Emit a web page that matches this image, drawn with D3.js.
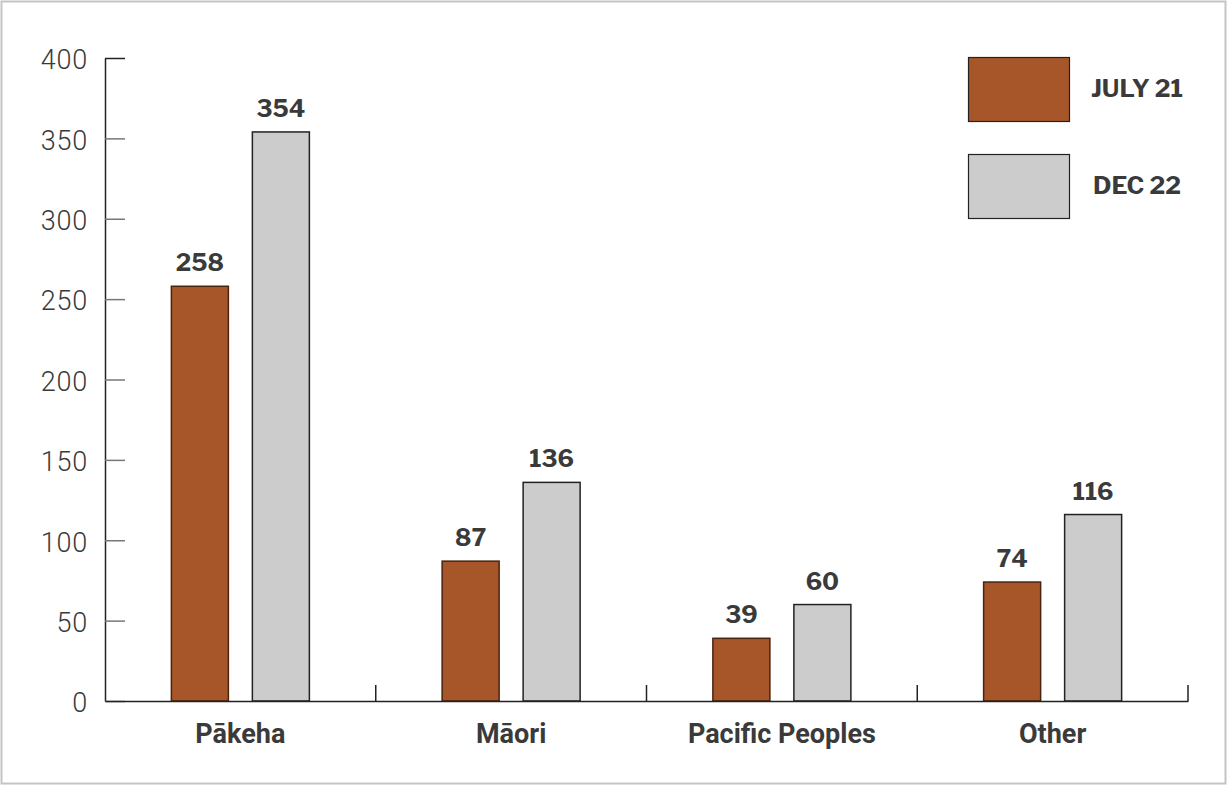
<!DOCTYPE html>
<html>
<head>
<meta charset="utf-8">
<script src="https://cdn.jsdelivr.net/npm/d3@7"></script>
<style>
  body { margin: 0; background: #fff; }
  svg { display: block; font-family: "Libre Franklin", "Roboto", "Liberation Sans", sans-serif; }
</style>
</head>
<body>
<div id="container"></div>
<script>
const categories = ["Pākeha", "Māori", "Pacific Peoples", "Other"];
const seriesNames = ["JULY 21", "DEC 22"];
const july21 = [258, 87, 39, 74];
const dec22 = [354, 136, 60, 116];
const yTicks = [0, 50, 100, 150, 200, 250, 300, 350, 400];

const width = 1227;
const height = 785;
const padding = { top: 58, bot: 84, left: 105, right: 39 };
const colors = ["#a65628", "#cccccc"];

const svg = d3.select("#container")
              .append("svg")
              .attr("width", width)
              .attr("height", height);

// outer frame
svg.append("rect")
   .attr("x", 1.5).attr("y", 1.5)
   .attr("width", width - 3).attr("height", height - 3)
   .attr("fill", "none")
   .attr("stroke", "#c4c4c4")
   .attr("stroke-width", 2);

const xScale = d3.scaleBand()
                 .domain(categories)
                 .range([padding.left, width - padding.right]);

const yScale = d3.scaleLinear()
                 .domain([0, 400])
                 .range([height - padding.bot, padding.top]);

const series = [july21, dec22];
const barW = 57;
const offsets = [-40.5, 40.5];

// y axis
const yAxis = d3.axisLeft(yScale)
                .tickValues(yTicks)
                .tickSize(0)
                .tickPadding(17);
const gy = svg.append("g")
   .attr("transform", "translate(" + padding.left + ",0)")
   .call(yAxis);
gy.select(".domain").attr("stroke", "#222").attr("stroke-width", 1.5);
gy.selectAll("text")
  .attr("font-size", 27)
  .attr("fill", "#3a3a3a")
  .attr("font-family", "Roboto, sans-serif")
  .attr("font-weight", 300)
  .attr("letter-spacing", 0.8)
  .attr("dy", "0.4em");
// inner ticks
gy.selectAll(".tick")
  .append("line")
  .attr("x1", 0).attr("x2", 20)
  .attr("stroke", (d) => d === 400 ? "#222" : "#777")
  .attr("stroke-width", 1.5);

// bars
series.forEach((vals, s) => {
  svg.selectAll(".bar" + s)
     .data(vals)
     .enter()
     .append("rect")
     .attr("class", "bar" + s)
     .attr("x", (d, i) => xScale(categories[i]) + xScale.bandwidth() / 2 + offsets[s] - barW / 2)
     .attr("y", (d) => yScale(d))
     .attr("width", barW)
     .attr("height", (d) => yScale(0) - yScale(d))
     .attr("fill", colors[s])
     .attr("stroke", s === 0 ? "#4a2210" : "#222")
     .attr("stroke-width", 1.5);

  svg.selectAll(".lab" + s)
     .data(vals)
     .enter()
     .append("text")
     .attr("x", (d, i) => xScale(categories[i]) + xScale.bandwidth() / 2 + offsets[s])
     .attr("y", (d) => yScale(d) - 15)
     .attr("text-anchor", "middle")
     .attr("font-size", 24)
     .attr("font-weight", "bold")
     .attr("fill", "#3a3a3a")
     .text((d) => d);
});

// x axis
const xAxis = d3.axisBottom(xScale).tickSize(0).tickPadding(23);
const gx = svg.append("g")
   .attr("transform", "translate(0," + yScale(0) + ")")
   .call(xAxis);
gx.select(".domain").attr("stroke", "#222").attr("stroke-width", 1.5);
gx.selectAll("text")
  .attr("font-size", 27)
  .attr("font-weight", "bold")
  .attr("fill", "#3a3a3a")
  .attr("font-family", "Roboto, sans-serif");
// category separators
gx.selectAll(".sep")
  .data(categories)
  .enter()
  .append("line")
  .attr("class", "sep")
  .attr("x1", (d) => xScale(d) + xScale.bandwidth())
  .attr("x2", (d) => xScale(d) + xScale.bandwidth())
  .attr("y1", 0).attr("y2", -16)
  .attr("stroke", "#222")
  .attr("stroke-width", 1.5);

// legend
const legend = svg.append("g");
seriesNames.forEach((name, s) => {
  legend.append("rect")
        .attr("x", 968.5).attr("y", 57.5 + s * 97)
        .attr("width", 101).attr("height", 64)
        .attr("fill", colors[s])
        .attr("stroke", "#222")
        .attr("stroke-width", 1.2);
  legend.append("text")
        .attr("x", 1137).attr("y", 88.5 + s * 97)
        .attr("dy", "0.35em")
        .attr("text-anchor", "middle")
        .attr("font-size", 24.5)
        .attr("font-weight", "bold")
        .attr("fill", "#3a3a3a")
        .text(name);
});
</script>
</body>
</html>
